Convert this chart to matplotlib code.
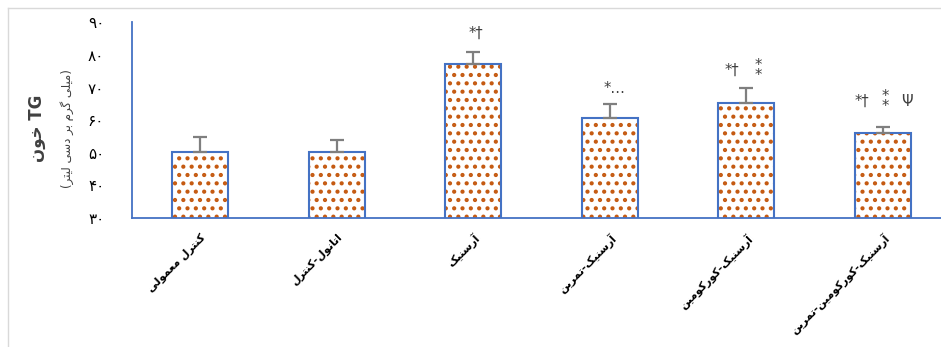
import numpy as np
import matplotlib
matplotlib.use("Agg")
import matplotlib.pyplot as plt
from matplotlib.lines import Line2D

# data (TG, mg/dl)
groups = [
    "کنترل معمولی",
    "اتانول-کنترل",
    "آرسنیک",
    "آرسنیک-تمرین",
    "آرسنیک-کورکومین",
    "آرسنیک-کورکومین-تمرین",
]
tg_mean = [50.3, 50.1, 77.2, 60.7, 65.2, 56.0]
tg_err = [4.4, 3.9, 3.6, 4.1, 4.6, 1.8]
y_ticks = [30, 40, 50, 60, 70, 80, 90]
y_tick_labels = ["۳۰", "۴۰", "۵۰", "۶۰", "۷۰", "۸۰", "۹۰"]
# significance marks above each bar: (symbol, dx px from bar centre)
sig_marks = [
    [],
    [],
    [("*†", 3)],
    [("*…", 5)],
    [("*†", -14), ("*\n*", 12)],
    [("*†", -21), ("*\n*", 3), ("Ψ", 24)],
]
sig_dy = [0, 0, 19, 16, 18, 26]

# crude arabic shaping: matplotlib draws glyphs left to right with no joining
FORMS = {
    "ا": ("\ufe8d", "\ufe8e"),
    "آ": ("\ufe81", "\ufe82"),
    "ب": ("\ufe8f", "\ufe90", "\ufe91", "\ufe92"),
    "ت": ("\ufe95", "\ufe96", "\ufe97", "\ufe98"),
    "خ": ("\ufea5", "\ufea6", "\ufea7", "\ufea8"),
    "د": ("\ufea9", "\ufeaa"),
    "ر": ("\ufead", "\ufeae"),
    "س": ("\ufeb1", "\ufeb2", "\ufeb3", "\ufeb4"),
    "ع": ("\ufec9", "\ufeca", "\ufecb", "\ufecc"),
    "ل": ("\ufedd", "\ufede", "\ufedf", "\ufee0"),
    "م": ("\ufee1", "\ufee2", "\ufee3", "\ufee4"),
    "ن": ("\ufee5", "\ufee6", "\ufee7", "\ufee8"),
    "و": ("\ufeed", "\ufeee"),
    "ک": ("\ufb8e", "\ufb8f", "\ufb90", "\ufb91"),
    "گ": ("\ufb92", "\ufb93", "\ufb94", "\ufb95"),
    "ی": ("\ufbfc", "\ufbfd", "\ufbfe", "\ufbff"),
}


def shape(text):
    out = []
    for i, ch in enumerate(text):
        if ch not in FORMS:
            out.append(ch)
            continue
        f = FORMS[ch]
        prev = text[i - 1] if i > 0 else ""
        nxt = text[i + 1] if i + 1 < len(text) else ""
        join_prev = prev in FORMS and len(FORMS[prev]) == 4
        join_next = len(f) == 4 and nxt in FORMS
        if join_prev and join_next:
            out.append(f[3])
        elif join_prev:
            out.append(f[1])
        elif join_next:
            out.append(f[2])
        else:
            out.append(f[0])
    return out


def rtl(text):
    mirror = {"(": ")", ")": "("}
    return "".join(mirror.get(c, c) for c in shape(text)[::-1])


plt.rcParams["font.family"] = ["DejaVu Sans"]
plt.rcParams["hatch.linewidth"] = 1.8

fig = plt.figure(figsize=(9.41, 3.47), dpi=100)
ax = fig.add_axes([132 / 941, 129.3 / 347, 819 / 941, 195.2 / 347])

x = np.arange(len(groups))
orange = "#C55A11"
blue = "#4472C4"

# hatch layer then outline layer, so dots are orange and the frame blue
ax.bar(x, tg_mean, width=0.41, bottom=0, color="white", edgecolor=orange,
       linewidth=0, hatch="..", zorder=2)
ax.bar(x, tg_mean, width=0.41, fill=False, edgecolor=blue, linewidth=1.5,
       zorder=3)
ax.errorbar(x, tg_mean, yerr=[np.zeros(len(x)), tg_err], fmt="none",
            ecolor="#7F7F7F", elinewidth=1.6, capsize=5, capthick=1.6,
            zorder=4)

for i, marks in enumerate(sig_marks):
    for sym, dx in marks:
        ax.annotate(sym, xy=(x[i], tg_mean[i] + tg_err[i]),
                    xytext=(dx, sig_dy[i]), textcoords="offset pixels",
                    ha="center", va="center", fontsize=10.5,
                    color="#404040", linespacing=0.6)

ax.set_xlim(-0.5, 5.5)
ax.set_ylim(30, 90)
ax.set_yticks(y_ticks)
ax.set_yticklabels(y_tick_labels, fontsize=11)
ax.set_xticks(x)
ax.set_xticklabels([rtl(g) for g in groups], rotation=45, ha="right",
                   rotation_mode="anchor", fontsize=7.8, fontweight="bold")
ax.tick_params(axis="y", length=0, pad=20)
ax.tick_params(axis="x", length=0, pad=10)
for side in ["top", "right"]:
    ax.spines[side].set_visible(False)
for side in ["left", "bottom"]:
    ax.spines[side].set_color(blue)
    ax.spines[side].set_linewidth(1.3)

fig.text(37 / 941, 1 - 128 / 347, rtl("خون") + " TG", rotation=90,
         ha="center", va="center", fontsize=12, fontweight="bold",
         color="#404040")
fig.text(67 / 941, 1 - 129 / 347, rtl("(میلی گرم بر دسی لیتر)"),
         rotation=90, ha="center", va="center", fontsize=8.5,
         color="#404040")

# light chart-area frame
fig.add_artist(Line2D([8 / 941, 1], [1 - 8 / 347] * 2,
                      transform=fig.transFigure, color="#D9D9D9", lw=1))
fig.add_artist(Line2D([8 / 941] * 2, [0, 1 - 8 / 347],
                      transform=fig.transFigure, color="#D9D9D9", lw=1))

fig.savefig("out.png", dpi=100)
